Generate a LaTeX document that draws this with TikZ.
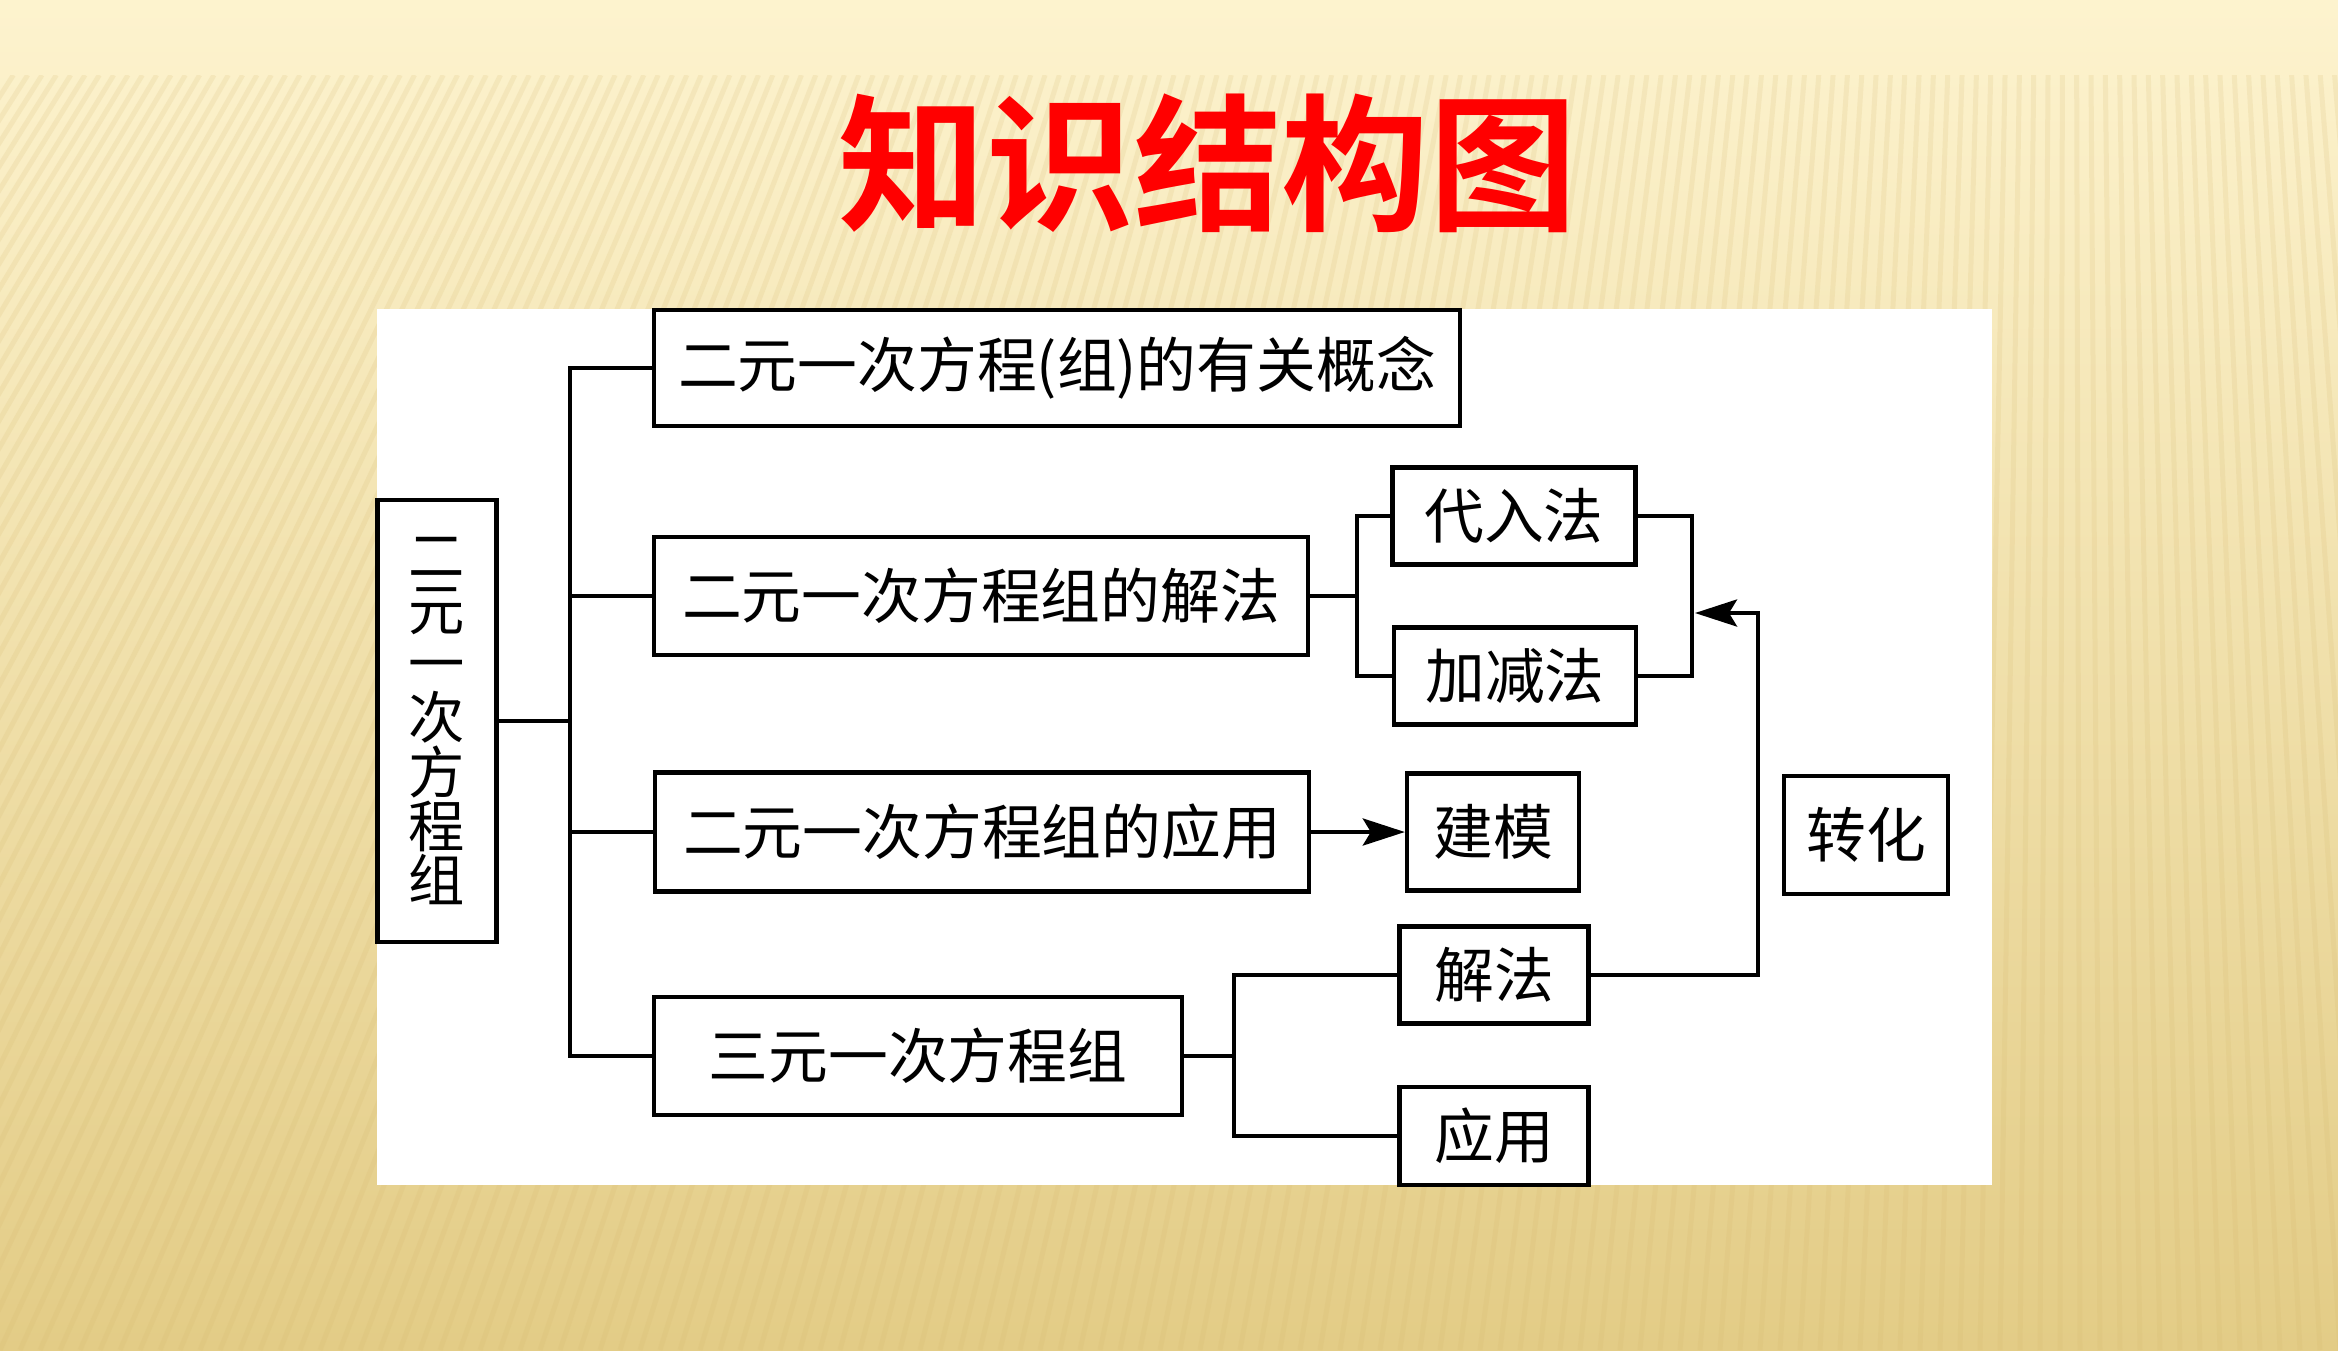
\documentclass[tikz,border=0pt]{standalone}
\usepackage{fontspec}
\newfontfamily\cjk{Noto Sans CJK SC}[BoldFont={Noto Sans CJK SC Bold}]
\usetikzlibrary{arrows.meta}

\definecolor{bgtop}{RGB}{253,243,206}
\definecolor{bgmid}{RGB}{249,233,180}
\definecolor{bgbot}{RGB}{227,204,134}
\definecolor{stripe}{RGB}{212,182,108}
\definecolor{titlered}{RGB}{255,0,0}

\tikzset{
  box/.style={draw, line width=1.2pt, inner sep=0pt, fill=white,
    font=\cjk\fontsize{17pt}{17pt}\selectfont},
  link/.style={line width=1.2pt},
  arrowlink/.style={link, -{Stealth[length=0.42cm, width=0.27cm, inset=0.08cm]}}
}

\begin{document}
\begin{tikzpicture}[x=0.01cm, y=-0.01cm]
    % background
    \shade[top color=bgtop, middle color=bgmid, bottom color=bgbot] (0,0) rectangle (2338,1350);
    \useasboundingbox (0,0) rectangle (2338,1350);
    \begin{scope}
        \clip (0,75) rectangle (2338,1350);
        \foreach \i in {-40,...,125} {
            \pgfmathsetmacro{\xb}{\i*20}
            \pgfmathsetmacro{\xt}{\xb+1275*(0.46-0.52*\xb/2338)}
            \draw[stripe, opacity=0.16, line width=0.05cm] (\xb,1350) -- (\xt,75);
        }
    \end{scope}
    \fill[white] (377,309) rectangle (1992,1185);

    \node[text=titlered, font=\cjk\bfseries\fontsize{42pt}{42pt}\selectfont] (title) at (1208,163) {知识结构图};

    % boxes
    \node[box, minimum width=1.19cm, minimum height=4.42cm, align=center,
        font=\cjk\fontsize{16pt}{15.4pt}\selectfont] (root) at (437,721) {二\\元\\一\\次\\方\\程\\组};
    \node[box, minimum width=8.05cm, minimum height=1.16cm] (concept) at (1057,368) {二元一次方程(组)的有关概念};
    \node[box, minimum width=6.53cm, minimum height=1.18cm] (solve) at (981,596) {二元一次方程组的解法};
    \node[box, minimum width=6.54cm, minimum height=1.19cm] (apply) at (982,832) {二元一次方程组的应用};
    \node[box, minimum width=5.27cm, minimum height=1.18cm] (three) at (918,1056) {三元一次方程组};
    \node[box, minimum width=2.43cm, minimum height=0.97cm] (subst) at (1514,516) {代入法};
    \node[box, minimum width=2.42cm, minimum height=0.97cm] (elim) at (1515,676) {加减法};
    \node[box, minimum width=1.72cm, minimum height=1.17cm] (model) at (1493,832) {建模};
    \node[box, minimum width=1.89cm, minimum height=0.97cm] (tsolve) at (1494,975) {解法};
    \node[box, minimum width=1.89cm, minimum height=0.98cm] (tapply) at (1494,1136) {应用};
    \node[box, minimum width=1.64cm, minimum height=1.18cm] (reduce) at (1866,835) {转化};

    % connectors
    \coordinate (trunk) at (570,721);
    \coordinate (sfork) at (1357,596);
    \coordinate (sjoin) at (1692,596);
    \coordinate (bend) at (1758,613);
    \coordinate (sin) at (1695,613);
    \coordinate (tfork) at (1234,1056);
    \draw[link] (root.east) -- (trunk);
    \draw[link] (concept.west) -| (trunk) |- (three.west);
    \draw[link] (solve.west) -- (solve.west -| trunk);
    \draw[link] (apply.west) -- (apply.west -| trunk);
    \draw[link] (solve.east) -- (sfork);
    \draw[link] (subst.west) -| (sfork) |- (elim.west);
    \draw[link] (subst.east) -| (sjoin) |- (elim.east);
    \draw[arrowlink] (tsolve.east) -| (bend) -- (sin);
    \draw[arrowlink] (apply.east) -- (model.west);
    \draw[link] (three.east) -- (tfork);
    \draw[link] (tsolve.west) -| (tfork) |- (tapply.west);
\end{tikzpicture}
\end{document}
